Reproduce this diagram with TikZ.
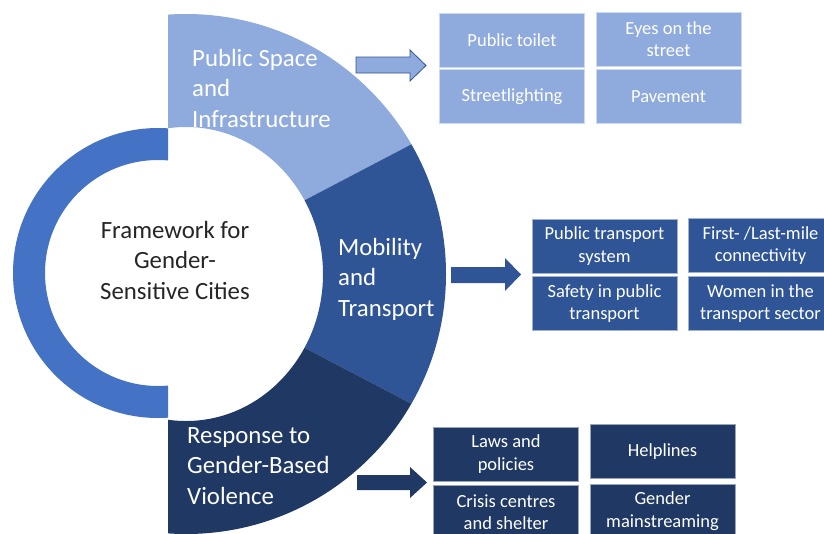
\documentclass[tikz,border=0pt]{standalone}
\usepackage{fontspec}
\setmainfont{Carlito}
\usepackage{tikz}

\definecolor{pubblue}{HTML}{8FAADC}
\definecolor{mobblue}{HTML}{2F5597}
\definecolor{gbvblue}{HTML}{203864}
\definecolor{ringblue}{HTML}{4472C4}

\tikzset{
  bigtext/.style={font=\fontsize{24.8}{30.5}\selectfont, align=left, inner sep=0pt},
  itembox/.style={fill=#1, draw=white!55!#1, text=white, minimum width=145pt,
    minimum height=54pt, align=center, inner sep=1pt,
    font=\fontsize{18.5}{22.5}\selectfont},
}

\begin{document}
\begin{tikzpicture}[x=1pt, y=-1pt]
  \useasboundingbox (0,0) rectangle (824,533);
  \clip (0,0) rectangle (824,533);

  % left ring
  \begin{scope}
    \clip (0,0) rectangle (168,533);
    \fill[ringblue, even odd rule] (158,273) circle (145) (158,273) circle (113);
  \end{scope}

  % sectors
  \begin{scope}
    \clip (168,-10) -- (168,271.8) -- (500,97.9) -- (500,-10) -- cycle;
    \fill[pubblue, even odd rule] (186,274) circle (260) (186,274) ellipse (137 and 147);
  \end{scope}
  \begin{scope}
    \clip (168,271.8) -- (500,97.9) -- (500,450.1) -- (168,276.2) -- cycle;
    \fill[mobblue, even odd rule] (186,274) circle (260) (186,274) ellipse (137 and 147);
  \end{scope}
  \begin{scope}
    \clip (168,276.2) -- (500,450.1) -- (500,545) -- (168,545) -- cycle;
    \fill[gbvblue, even odd rule] (186,274) circle (260) (186,274) ellipse (137 and 147);
  \end{scope}

  \node[bigtext, text=black!85, align=center] (frame) at (175,260) {Framework for\\Gender-\\Sensitive Cities};
  \node[bigtext, text=white, anchor=west] (pubtxt) at (192,88) {Public Space\\and\\Infrastructure};
  \node[bigtext, text=white, anchor=west] (mobtxt) at (338,279) {Mobility\\and\\Transport};
  \node[bigtext, text=white, anchor=west] (gbvtxt) at (187,466) {Response to\\Gender-Based\\Violence};

  % block arrows
  \filldraw[fill=pubblue, draw=mobblue, line width=0.8pt] (356,57) -- (410,57) -- (410,50) -- (426,65.5)
    -- (410,81) -- (410,73) -- (356,73) -- cycle;
  \fill[mobblue] (451,267) -- (505,267) -- (505,258) -- (521,274.5) -- (505,291) -- (505,283) -- (451,283) -- cycle;
  \fill[gbvblue] (357,475) -- (410,475) -- (410,467) -- (427,482.5) -- (410,498) -- (410,490) -- (357,490) -- cycle;

  % public space
  \node[itembox=pubblue] (toilet) at (512,40) {Public toilet};
  \node[itembox=pubblue] (eyes) at (668.5,39) {Eyes on the\\street};
  \node[itembox=pubblue] (lighting) at (512,96.5) {Streetlighting};
  \node[itembox=pubblue] (pavement) at (668.5,96.5) {Pavement};

  % mobility
  \node[itembox=mobblue] (ptsystem) at (604.5,246) {Public transport\\system};
  \node[itembox=mobblue] (lastmile) at (760.5,245.5) {First- /Last-mile\\connectivity};
  \node[itembox=mobblue] (ptsafety) at (604.5,303.5) {Safety in public\\transport};
  \node[itembox=mobblue] (women) at (760.5,303.5) {Women in the\\transport sector};

  % gender-based violence
  \node[itembox=gbvblue] (laws) at (506,454) {Laws and\\policies};
  \node[itembox=gbvblue] (helplines) at (662.5,451.5) {Helplines};
  \node[itembox=gbvblue] (shelter) at (506,512) {Crisis centres\\and shelter};
  \node[itembox=gbvblue] (mainstream) at (662.5,511) {Gender\\mainstreaming};
\end{tikzpicture}
\end{document}
